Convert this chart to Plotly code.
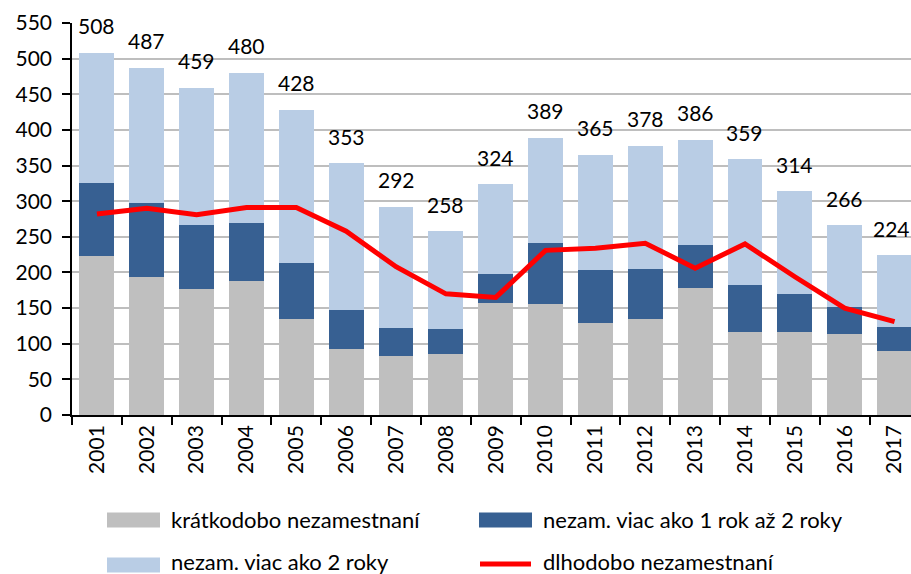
import plotly.graph_objects as go

years = ["2001", "2002", "2003", "2004", "2005", "2006", "2007", "2008", "2009",
         "2010", "2011", "2012", "2013", "2014", "2015", "2016", "2017"]
short_term = [223, 194, 177, 188, 135, 93, 83, 86, 157, 156, 129, 135, 178, 117, 117, 113, 90]
one_to_two = [103, 104, 90, 82, 78, 55, 39, 34, 41, 86, 75, 70, 61, 65, 53, 38, 33]
totals = [508, 487, 459, 480, 428, 353, 292, 258, 324, 389, 365, 378, 386, 359, 314, 266, 224]
over_two = [t - a - b for t, a, b in zip(totals, short_term, one_to_two)]
long_term = [282, 290, 281, 291, 291, 258, 208, 170, 165, 231, 234, 241, 206, 240, 194, 150, 131]

names = ["krátkodobo nezamestnaní", "nezam. viac ako 1 rok až 2 roky",
         "nezam. viac ako 2 roky", "dlhodobo nezamestnaní"]
c_gray, c_dark, c_light, c_red = "#BFBFBF", "#376092", "#B9CDE5", "#FF0000"

FONT = "Lato"
W, H = 911, 574
ML, MR, MT, MB = 72, 0, 23, 159

fig = go.Figure()
fig.add_trace(go.Bar(x=years, y=short_term, name=names[0], marker_color=c_gray,
                     marker_line_width=0, showlegend=False))
fig.add_trace(go.Bar(x=years, y=one_to_two, name=names[1], marker_color=c_dark,
                     marker_line_width=0, showlegend=False))
fig.add_trace(go.Bar(x=years, y=over_two, name=names[2], marker_color=c_light,
                     marker_line_width=0, showlegend=False))
fig.add_trace(go.Scatter(x=years, y=long_term, name=names[3], mode="lines",
                         line=dict(color=c_red, width=5), showlegend=False))

annotations = []
n = len(totals)
for i, t in enumerate(totals):
    annotations.append(dict(x=i, y=t, text=str(t), showarrow=False, yshift=27,
                            xshift=-3 if i == n - 1 else 0,
                            xref="x", yref="y", yanchor="middle",
                            font=dict(size=21, color="black", family=FONT)))

# custom legend (pixel positions converted to paper coords)
pw = W - ML - MR
ph = H - MT - MB
def px(x):
    return (x - ML) / pw
def py(y):
    return (H - MB - y) / ph

shapes = []
leg = [
    (107, 520, 519, names[0], c_gray, "rect"),
    (479, 520, 519, names[1], c_dark, "rect"),
    (107, 565, 561, names[2], c_light, "rect"),
    (479, 565, 561, names[3], c_red, "line"),
]
for x0, yc, yt, txt, col, kind in leg:
    if kind == "rect":
        shapes.append(dict(type="rect", xref="paper", yref="paper",
                           x0=px(x0), x1=px(x0 + 53), y0=py(yc - 7.5), y1=py(yc + 7.5),
                           fillcolor=col, line=dict(width=0), layer="above"))
    else:
        shapes.append(dict(type="line", xref="paper", yref="paper",
                           x0=px(x0 + 1), x1=px(x0 + 52), y0=py(yc - 1), y1=py(yc - 1),
                           line=dict(color=col, width=5), layer="above"))
    annotations.append(dict(xref="paper", yref="paper", x=px(x0 + 62), y=py(yt),
                            xanchor="left", yanchor="middle", text=txt, showarrow=False,
                            font=dict(size=22, color="black", family=FONT)))

fig.update_layout(
    width=W, height=H,
    margin=dict(l=ML, r=MR, t=MT, b=MB, autoexpand=False),
    barmode="stack", bargap=0.30,
    plot_bgcolor="white", paper_bgcolor="white",
    font=dict(family=FONT, size=21, color="black"),
    annotations=annotations, shapes=shapes,
)
fig.update_xaxes(type="category", range=[-0.5, 16.33], tickson="boundaries",
                 ticks="outside", ticklen=8, tickwidth=1.5, tickcolor="black",
                 showline=True, linecolor="black", linewidth=1.5,
                 tickangle=-90, tickfont=dict(size=21, family=FONT),
                 showgrid=False, automargin=False)
fig.update_yaxes(range=[0, 550], dtick=50, tick0=0,
                 ticks="outside", ticklen=8, tickwidth=1.5, tickcolor="black",
                 showline=True, linecolor="black", linewidth=1.5,
                 showgrid=True, gridcolor="#BEBEBE", gridwidth=1.5,
                 tickfont=dict(size=21, family=FONT), zeroline=False,
                 automargin=False, ticklabelstandoff=6)

fig.write_html("out.html", config={"displayModeBar": False},
               post_script="document.body.style.margin='0';document.body.style.overflow='hidden';")
